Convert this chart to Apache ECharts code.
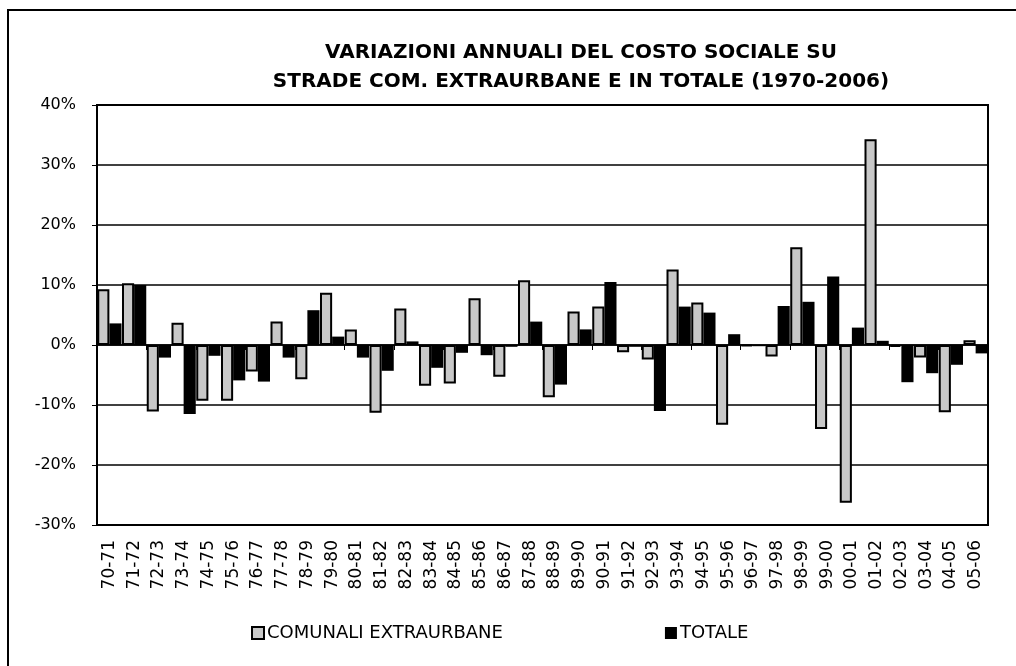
<!DOCTYPE html>
<html>
<head>
<meta charset="utf-8">
<script src="https://cdn.jsdelivr.net/npm/echarts@6/dist/echarts.min.js"></script>
<style>
html,body{margin:0;padding:0;background:#fff;}
#c{width:1016px;height:666px;}
</style>
</head>
<body>
<div id="c"></div>
<script>
const categories = ["70-71","71-72","72-73","73-74","74-75","75-76","76-77","77-78","78-79","79-80","80-81","81-82","82-83","83-84","84-85","85-86","86-87","87-88","88-89","89-90","90-91","91-92","92-93","93-94","94-95","95-96","96-97","97-98","98-99","99-00","00-01","01-02","02-03","03-04","04-05","05-06"];
const comunaliExtraurbane = [9.3,10.3,-11.1,3.7,-9.3,-9.3,-4.4,3.9,-5.7,8.7,2.6,-11.3,6.1,-6.8,-6.4,7.8,-5.3,10.8,-8.7,5.6,6.4,-1.2,-2.4,12.6,7.1,-13.3,-0.2,-1.9,16.3,-14.0,-26.3,34.3,-0.3,-2.1,-11.2,0.8];
const totale = [3.6,10.0,-2.1,-11.5,-1.8,-5.9,-6.1,-2.1,5.8,1.4,-2.1,-4.3,0.6,-3.8,-1.3,-1.7,-0.3,3.9,-6.6,2.6,10.5,-0.3,-11.0,6.4,5.4,1.8,-0.2,6.5,7.2,11.4,2.9,0.7,-6.2,-4.7,-3.3,-1.4];
const seriesNames = ["COMUNALI EXTRAURBANE","TOTALE"];
const titleLines = ["VARIAZIONI ANNUALI DEL COSTO SOCIALE SU","STRADE COM. EXTRAURBANE E IN TOTALE (1970-2006)"];

const FONT = "DejaVu Sans";
const chart = echarts.init(document.getElementById('c'), null, {renderer:'canvas'});
chart.setOption({
  animation:false,
  backgroundColor:'#fff',
  title:{
    text: titleLines.join('\n'),
    left: 576, top: 33, textAlign:'center',
    textStyle:{fontFamily:FONT,fontWeight:'bold',fontSize:20,color:'#000',lineHeight:29}
  },
  graphic:[{
    type:'polyline', silent:true,
    shape:{points:[[8,666],[8,10],[1016,10]]},
    style:{stroke:'#000',lineWidth:2,fill:null}
  }],
  legend:{
    left:246, top:619,
    itemWidth:12, itemHeight:12, itemGap:162,
    textStyle:{fontFamily:FONT,fontSize:18,color:'#000',padding:[0,0,0,-2]},
    data:[
      {name:seriesNames[0], icon:'rect', itemStyle:{color:'#c8c8c8',borderColor:'#000',borderWidth:2}},
      {name:seriesNames[1], icon:'rect', itemStyle:{color:'#000'}}
    ]
  },
  grid:{left:97,right:28,top:105,bottom:141,show:true,borderColor:'#000',borderWidth:2,backgroundColor:'transparent'},
  xAxis:[{
    type:'category', data:categories,
    axisLine:{onZero:true,lineStyle:{color:'#000',width:1.5}},
    axisTick:{show:true,alignWithLabel:false,length:5,lineStyle:{color:'#000'}},
    axisLabel:{show:false},
    splitLine:{show:false}
  },{
    type:'category', data:categories, position:'bottom',
    axisLine:{show:false,onZero:false}, axisTick:{show:false},
    axisLabel:{show:true,rotate:90,interval:0,margin:15,fontFamily:FONT,fontSize:17,color:'#000'}
  }],
  yAxis:{
    type:'value', min:-30, max:40, interval:10,
    axisLine:{show:true,lineStyle:{color:'#000',width:2}},
    axisTick:{show:true,length:5,lineStyle:{color:'#000'}},
    axisLabel:{formatter:'{value}%',fontFamily:FONT,fontSize:16,color:'#000',margin:21},
    splitLine:{show:true,lineStyle:{color:'#000',width:1.5}}
  },
  series:[{
    name:seriesNames[0], type:'bar', data:comunaliExtraurbane,
    barGap:'0%', barCategoryGap:'2%',
    itemStyle:{color:'#c8c8c8',borderColor:'#000',borderWidth:2}
  },{
    name:seriesNames[1], type:'bar', data:totale,
    barGap:'0%', barCategoryGap:'2%',
    itemStyle:{color:'#000'}
  }]
});
</script>
</body>
</html>
